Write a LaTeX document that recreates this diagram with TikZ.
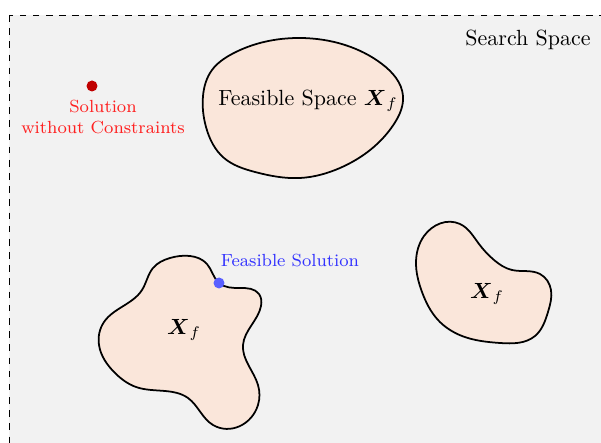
\documentclass[tikz,border=0pt]{standalone}
\usepackage{amsmath}
\usepackage{tikz}
\usetikzlibrary{positioning, hobby}
\definecolor{spacebg}{RGB}{242,242,242}
\definecolor{feasfill}{RGB}{250,230,218}
\definecolor{optred}{RGB}{192,0,0}
\definecolor{labelred}{RGB}{255,32,32}
\definecolor{solblue}{RGB}{90,95,255}
\definecolor{labelblue}{RGB}{50,50,255}

\tikzset{
    region/.style={draw=black, fill=feasfill, thick},
    solpt/.style={circle, inner sep=0pt, minimum size=11pt*0.455}
}

\begin{document}
\begin{tikzpicture}[x=0.016cm, y=-0.016cm]
    \useasboundingbox (0,0) rectangle (601,443);
    \clip (0,0) rectangle (601,443);

    % Search space
    \fill[spacebg] (9,15) rectangle (620,460);
    \draw[dashed, thin] (9,15) rectangle (620,460);
    \node (search) at (528,40) {Search Space};

    % Feasible regions
    \draw[region] plot[closed hobby] coordinates {
        (203,96) (212,70) (232,54) (300,38) (345,45) (382,64)
        (403,96) (394,124) (340,168) (300,178) (255,172)
        (224,158) (206,127)};
    \node (feas) at (308,101) {Feasible Space $\boldsymbol{X}_f$};

    \draw[region] plot[closed hobby] coordinates {
        (219,283) (240,288) (259,294) (261,306) (243,345) (258,385)
        (258,405) (213,425) (188,398) (165,391) (136,387) (115,373)
        (99,345) (104,322) (142,290) (153,268) (170,258) (190,256)
        (207,264)};
    \node (xf1) at (184,330) {$\boldsymbol{X}_f$};

    \draw[region] plot[closed hobby] coordinates {
        (460,224) (424,236) (416,262) (422,292) (438,320) (462,336)
        (500,343) (535,336) (548,312) (551,290) (540,274) (512,270)
        (494,260) (479,244)};
    \node (xf2) at (487,294) {$\boldsymbol{X}_f$};

    % Solutions
    \node[solpt, fill=optred] (freept) at (92,86) {};
    \node[font=\footnotesize, text=labelred, align=center] (freelbl) at (103,117)
        {Solution\\without Constraints};

    \node[solpt, fill=solblue] (feaspt) at (219,283) {};
    \node[font=\footnotesize, text=labelblue] (feaslbl) at (290,261) {Feasible Solution};
\end{tikzpicture}
\end{document}
